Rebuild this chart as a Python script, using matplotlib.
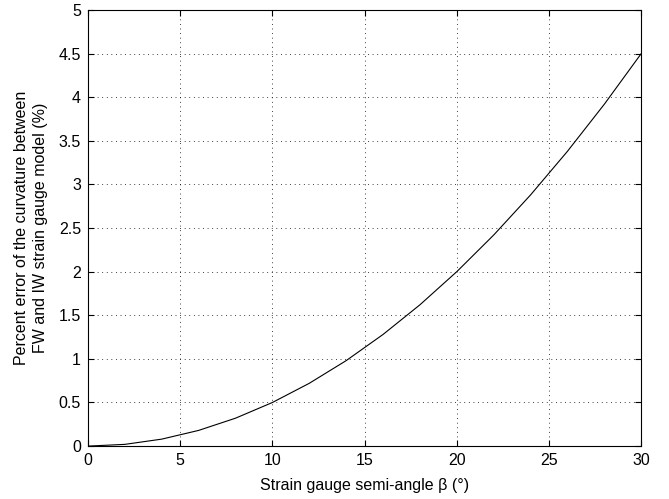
import matplotlib
matplotlib.use("Agg")
import matplotlib.pyplot as plt

# strain gauge semi-angle (deg) -> percent error (%)
beta = [0, 2, 4, 6, 8, 10, 12, 14, 16, 18, 20, 22, 24, 26, 28, 30]
err = [0.0, 0.02, 0.08, 0.18, 0.32, 0.5, 0.72, 0.98, 1.28, 1.62,
       2.0, 2.42, 2.88, 3.38, 3.92, 4.5]
xticks = [0, 5, 10, 15, 20, 25, 30]
yticks = [0, 0.5, 1, 1.5, 2, 2.5, 3, 3.5, 4, 4.5, 5]

plt.rcParams["font.family"] = ["Liberation Sans", "DejaVu Sans"]
plt.rcParams["font.size"] = 11.5

fig = plt.figure(figsize=(6.69, 4.99), dpi=100)
ax = fig.add_axes([0.1315, 0.106, 0.827, 0.874])
ax.plot(beta, err, color="black", lw=0.8)

ax.set_xlim(0, 30)
ax.set_ylim(0, 5)
ax.set_xticks(xticks)
ax.set_yticks(yticks)
ax.set_xticklabels([str(v) for v in xticks])
ax.set_yticklabels(["%g" % v for v in yticks])
ax.tick_params(direction="in", top=True, right=True, length=4, width=0.8, pad=5)
ax.grid(True, color="black", linestyle=(0, (1, 4.5)), linewidth=0.6)
for s in ax.spines.values():
    s.set_linewidth(0.8)

ax.set_xlabel("Strain gauge semi-angle \u03b2 (\u00b0)", labelpad=7)
ax.set_ylabel("Percent error of the curvature between\nFW and IW strain gauge model (%)",
              labelpad=8, linespacing=1.3)

fig.savefig("out.png", dpi=100)
